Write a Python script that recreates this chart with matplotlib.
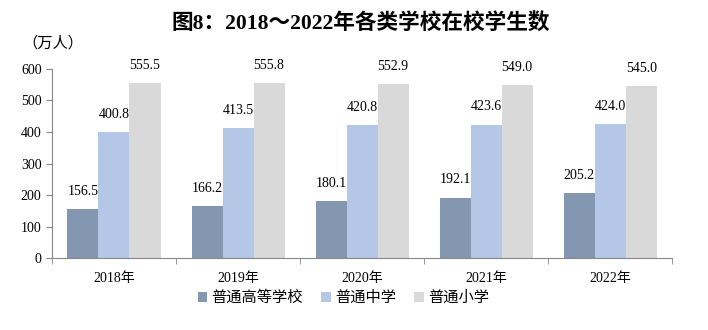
import numpy as np
import matplotlib
matplotlib.use('Agg')
import matplotlib.pyplot as plt

plt.rcParams['font.family'] = ['Liberation Serif', 'Noto Sans CJK SC']

years = ['2018年', '2019年', '2020年', '2021年', '2022年']
series_names = ['普通高等学校', '普通中学', '普通小学']
higher_edu = [156.5, 166.2, 180.1, 192.1, 205.2]
middle_school = [400.8, 413.5, 420.8, 423.6, 424.0]
primary_school = [555.5, 555.8, 552.9, 549.0, 545.0]
colors = ['#8497B0', '#B4C7E7', '#D9D9D9']

fig = plt.figure(figsize=(7.08, 3.30), dpi=100)
ax = fig.add_axes([0.0734, 0.218, 0.876, 0.573])

x = np.arange(len(years))
w = 0.25
for i, (vals, name) in enumerate(zip([higher_edu, middle_school, primary_school], series_names)):
    bars = ax.bar(x + (i - 1) * w, vals, w, color=colors[i], label=name)
    for b, v in zip(bars, vals):
        ax.annotate('%.1f' % v, (b.get_x() + b.get_width() / 2, v),
                    xytext=(0, 8), textcoords='offset points',
                    ha='center', va='bottom', fontsize=10)

ax.set_xlim(-0.5, len(years) - 0.5)
ax.set_ylim(0, 600)
ax.set_yticks(range(0, 601, 100))
ax.tick_params(axis='y', labelsize=10, length=4, color='#888888')
ax.set_xticks(x)
ax.set_xticklabels(years, fontsize=10)
ax.tick_params(axis='x', length=0, pad=10)
ax.set_xticks(np.arange(-0.5, len(years)), minor=True)
ax.tick_params(axis='x', which='minor', length=4, color='#888888')

for s in ['top', 'right']:
    ax.spines[s].set_visible(False)
for s in ['left', 'bottom']:
    ax.spines[s].set_color('#888888')

fig.text(0.509, 0.93, '图8：2018～2022年各类学校在校学生数', ha='center', va='center',
         fontsize=15.6, fontweight='bold')
fig.text(0.075, 0.868, '（万人）', ha='center', va='center', fontsize=11)

ax.legend(loc='center', bbox_to_anchor=(0.47, -0.21), ncol=3, frameon=False,
          fontsize=11, handlelength=0.6, handleheight=0.6, handletextpad=0.3,
          columnspacing=1.2)

fig.savefig('out.png', dpi=100)
